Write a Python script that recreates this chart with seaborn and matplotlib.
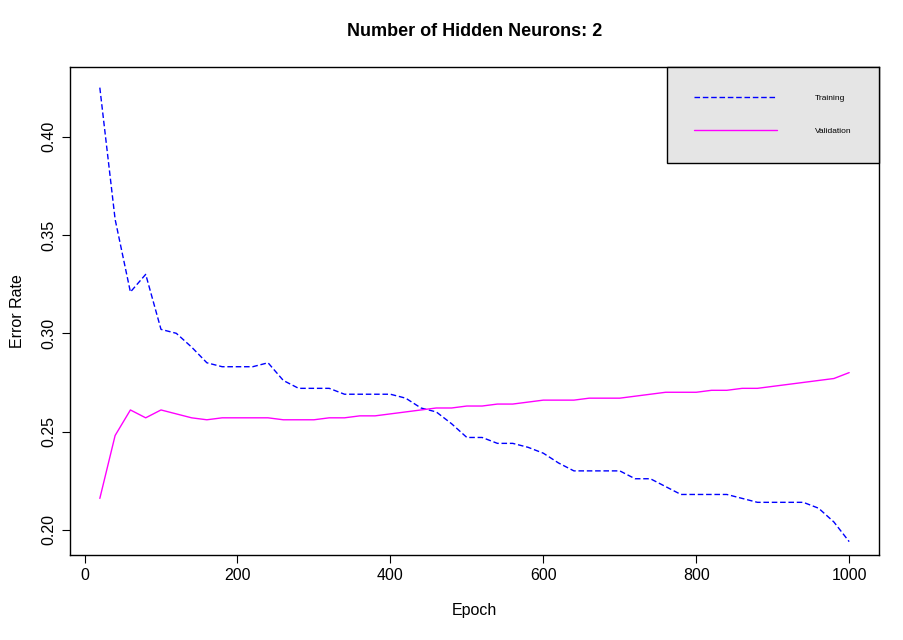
import matplotlib
matplotlib.use("Agg")
import matplotlib.pyplot as plt
import numpy as np
import pandas as pd
import seaborn as sns

EPOCHS = list(range(20, 1001, 20))
TRAINING = [0.425, 0.358, 0.321, 0.330, 0.302, 0.300, 0.293, 0.285, 0.283, 0.283,
            0.283, 0.285, 0.276, 0.272, 0.272, 0.272, 0.269, 0.269, 0.269, 0.269,
            0.267, 0.262, 0.260, 0.254, 0.247, 0.247, 0.244, 0.244, 0.242, 0.239,
            0.234, 0.230, 0.230, 0.230, 0.230, 0.226, 0.226, 0.222, 0.218, 0.218,
            0.218, 0.218, 0.216, 0.214, 0.214, 0.214, 0.214, 0.211, 0.204, 0.194]
VALIDATION = [0.216, 0.248, 0.261, 0.257, 0.261, 0.259, 0.257, 0.256, 0.257, 0.257,
              0.257, 0.257, 0.256, 0.256, 0.256, 0.257, 0.257, 0.258, 0.258, 0.259,
              0.260, 0.261, 0.262, 0.262, 0.263, 0.263, 0.264, 0.264, 0.265, 0.266,
              0.266, 0.266, 0.267, 0.267, 0.267, 0.268, 0.269, 0.270, 0.270, 0.270,
              0.271, 0.271, 0.272, 0.272, 0.273, 0.274, 0.275, 0.276, 0.277, 0.280]

sns.set_style("ticks")
plt.rcParams["font.family"] = ["Liberation Sans", "DejaVu Sans"]
plt.rcParams["text.color"] = "black"
plt.rcParams["axes.labelcolor"] = "black"
plt.rcParams["xtick.color"] = "black"
plt.rcParams["ytick.color"] = "black"

df = pd.DataFrame({"Epoch": EPOCHS, "Training": TRAINING, "Validation": VALIDATION})

fig = plt.figure(figsize=(9.04, 6.4), dpi=100)
ax = fig.add_axes([70 / 904, 1 - 555 / 640, 809 / 904, 488 / 640])
sns.lineplot(data=df, x="Epoch", y="Training", ax=ax, color="blue", lw=1,
             linestyle=(0, (4, 2)), label="Training")
sns.lineplot(data=df, x="Epoch", y="Validation", ax=ax, color="magenta", lw=1,
             label="Validation")

ax.set_xlim(-19, 1039)
ax.set_ylim(0.1872, 0.4355)
ax.set_xticks([0, 200, 400, 600, 800, 1000])
ax.set_yticks([0.20, 0.25, 0.30, 0.35, 0.40])
ax.set_yticklabels(["0.20", "0.25", "0.30", "0.35", "0.40"], rotation=90, va="center")
ax.tick_params(labelsize=11.5, length=6, color="black")
for s in ax.spines.values():
    s.set_color("black")
    s.set_linewidth(1)
ax.set_xlabel("Epoch", fontsize=11.5, labelpad=14)
ax.set_ylabel("Error Rate", fontsize=11.5, labelpad=12)
ax.set_title("Number of Hidden Neurons: 2", fontsize=13, fontweight="bold", pad=22)

leg = ax.legend(loc="upper right", bbox_to_anchor=(1.0, 1.0), fontsize=6,
                facecolor="#e5e5e5", edgecolor="black", framealpha=1, fancybox=False,
                borderpad=3.3, labelspacing=3.0, handlelength=10, handletextpad=4.5,
                borderaxespad=0)
leg.get_frame().set_linewidth(1)
for t in leg.get_texts():
    t.set_color("black")
leg._legend_box.align = "left"
leg.get_texts()[0].set_ha("left")

fig.savefig("out.png", dpi=100)
